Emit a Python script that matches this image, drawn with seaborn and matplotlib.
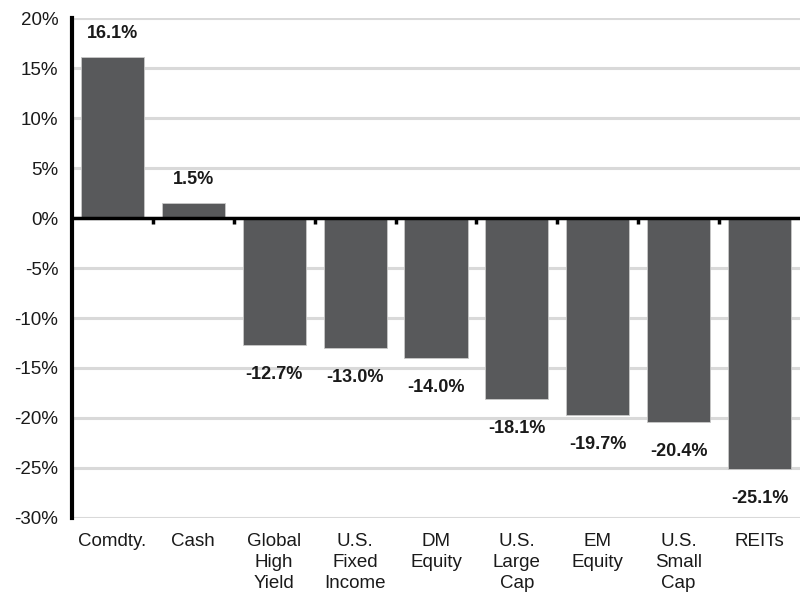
import matplotlib
matplotlib.use("Agg")
import matplotlib.pyplot as plt
import seaborn as sns
import pandas as pd

categories = ["Comdty.", "Cash", "Global\nHigh\nYield", "U.S.\nFixed\nIncome", "DM\nEquity",
              "U.S.\nLarge\nCap", "EM\nEquity", "U.S.\nSmall\nCap", "REITs"]
values = [16.1, 1.5, -12.7, -13.0, -14.0, -18.1, -19.7, -20.4, -25.1]
yticks = [20, 15, 10, 5, 0, -5, -10, -15, -20, -25, -30]

sns.set_theme(style="white")
plt.rcParams['font.family'] = ['Liberation Sans', 'DejaVu Sans']

df = pd.DataFrame({"cat": categories, "val": values})

fig = plt.figure(figsize=(8.02, 5.93), dpi=100)
ax = fig.add_axes([0.0898, 0.1265, 0.9077, 0.8431])

sns.barplot(data=df, x="cat", y="val", color="#58595b", saturation=1, width=0.78,
            ax=ax, zorder=3)
for p in ax.patches:
    p.set_edgecolor("#c8c8c8")
    p.set_linewidth(0.6)

ax.set_ylim(-30, 20)
ax.set_xlim(-0.5, len(categories) - 0.5)
ax.set_yticks(yticks)
ax.set_yticklabels([f"{t}%" for t in yticks], fontsize=13.5, color="#1a1a1a")
ax.yaxis.grid(True, color="#d9d9d9", linewidth=2.2, zorder=0)
ax.set_axisbelow(True)
ax.tick_params(axis="x", labelsize=13.5, colors="#1a1a1a", length=0, pad=11)
ax.tick_params(axis="y", length=0, pad=10)
for lbl in ax.get_xticklabels():
    lbl.set_linespacing(1.3)
ax.set_xlabel("")
ax.set_ylabel("")

for s in ["top", "right", "bottom"]:
    ax.spines[s].set_visible(False)
ax.spines["left"].set_color("black")
ax.spines["left"].set_linewidth(3)
ax.spines["left"].set_zorder(6)

ax.axhline(0, color="black", linewidth=2.5, zorder=5)
for b in range(1, len(categories)):
    ax.plot([b - 0.5, b - 0.5], [0, -0.6], color="black", linewidth=2.5, zorder=5,
            solid_capstyle="butt")

pos_labels = [f"{v:.1f}%" if v >= 0 else "" for v in values]
neg_labels = [f"{v:.1f}%" if v < 0 else "" for v in values]
for container in ax.containers:
    ax.bar_label(container, labels=pos_labels, padding=11, fontsize=13,
                 fontweight="bold", color="#1a1a1a")
    ax.bar_label(container, labels=neg_labels, padding=15, fontsize=13,
                 fontweight="bold", color="#1a1a1a")

fig.savefig("out.png", dpi=100)
